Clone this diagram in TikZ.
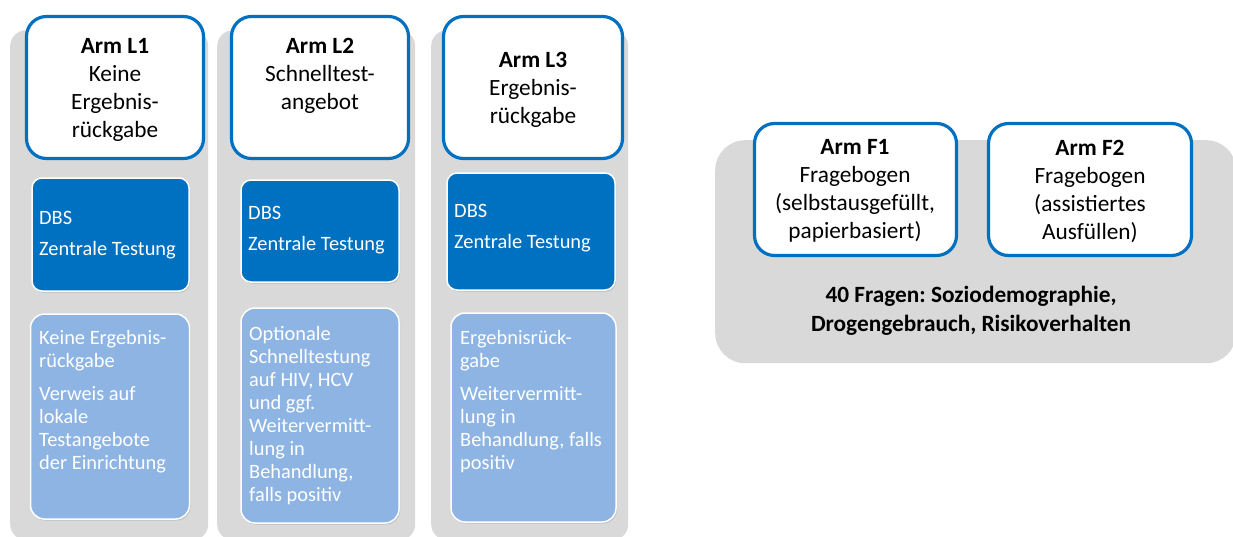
\documentclass[tikz,border=0pt]{standalone}
\usepackage{fontspec}
\setmainfont{Carlito}
\usetikzlibrary{shadows}
\definecolor{armblue}{HTML}{0070C0}
\definecolor{infoblue}{HTML}{8EB4E3}
\definecolor{panelgray}{HTML}{D9D9D9}
\frenchspacing
\begin{document}
\begin{tikzpicture}[x=1pt,y=-1pt,
  panel/.style={fill=panelgray, draw=none, rounded corners=16pt, inner sep=0pt, anchor=north west},
  header/.style={draw=armblue, line width=3.2pt, fill=white, rounded corners=20pt, inner sep=0pt},
  dbsbox/.style={fill=armblue, draw=white, line width=1.5pt, rounded corners=10pt, inner sep=0pt,
    drop shadow={opacity=0.3, shadow xshift=1pt, shadow yshift=-1.5pt}},
  infobox/.style={fill=infoblue, draw=white, line width=1.5pt, rounded corners=14pt, inner sep=0pt,
    drop shadow={opacity=0.3, shadow xshift=1pt, shadow yshift=-1.5pt}},
  hdtext/.style={font=\fontsize{23.3}{28}\selectfont, align=center, inner sep=0pt},
  dtext/.style={text=white, font=\fontsize{20.4}{23}\selectfont, align=left, inner sep=0pt, anchor=north west},
  btext/.style={font=\bfseries\fontsize{23.3}{29}\selectfont, align=center, inner sep=0pt}]
\useasboundingbox (0,0) rectangle (1233,536);
\begin{scope}
\clip (0,0) rectangle (1233,536);
\node[panel, minimum width=198pt, minimum height=510pt] (pL1) at (10,30) {};
\node[panel, minimum width=198pt, minimum height=510pt] (pL2) at (217,30) {};
\node[panel, minimum width=197pt, minimum height=510pt] (pL3) at (431,30) {};
\node[panel, rounded corners=30pt, minimum width=521pt, minimum height=223pt] (pF) at (715,140) {};
\end{scope}

% headers
\node[header, minimum width=177pt, minimum height=142pt] (hL1) at (115,87.5) {};
\node[header, minimum width=177pt, minimum height=142pt] (hL2) at (320,87.5) {};
\node[header, minimum width=179pt, minimum height=142pt] (hL3) at (533,87.5) {};
\node[hdtext] (tL1) at (115,90) {\textbf{Arm L1}\\Keine\\Ergebnis-\\rückgabe};
\node[hdtext] (tL2) at (320,76) {\textbf{Arm L2}\\Schnelltest-\\angebot};
\node[hdtext] (tL3) at (533,90) {\textbf{Arm L3}\\Ergebnis-\\rückgabe};

% DBS boxes
\node[dbsbox, minimum width=157pt, minimum height=113pt] (dL1) at (110.5,234.5) {};
\node[dbsbox, minimum width=158pt, minimum height=102pt] (dL2) at (320,231) {};
\node[dbsbox, minimum width=168pt, minimum height=117pt] (dL3) at (531,231.5) {};
\node[dtext] (dtL1) at (39,211.5) {DBS\\[8pt]Zentrale Testung};
\node[dtext] (dtL2) at (248,206.5) {DBS\\[8pt]Zentrale Testung};
\node[dtext] (dtL3) at (454,204.5) {DBS\\[8pt]Zentrale Testung};

% info boxes
\node[infobox, minimum width=159pt, minimum height=205pt] (iL1) at (110,416.5) {};
\node[infobox, minimum width=158pt, minimum height=215pt] (iL2) at (320,415.5) {};
\node[infobox, minimum width=165pt, minimum height=209pt] (iL3) at (533.5,417.5) {};
\node[dtext] (itL1) at (39,330) {Keine Ergebnis-\\rückgabe\\[10pt]Verweis auf\\lokale\\Testangebote\\der Einrichtung};
\node[dtext] (itL2) at (249,326) {Optionale\\Schnelltestung\\auf HIV, HCV\\und ggf.\\Weitervermitt-\\lung in\\Behandlung,\\falls positiv};
\node[dtext] (itL3) at (460,330) {Ergebnisrück-\\gabe\\[10pt]Weitervermitt-\\lung in\\Behandlung, falls\\positiv};

% questionnaire arms
\node[header, minimum width=202pt, minimum height=132pt] (hF1) at (855.5,189.5) {};
\node[header, minimum width=203pt, minimum height=132pt] (hF2) at (1090,189.5) {};
\node[hdtext] (tF1) at (855,191) {\textbf{Arm F1}\\Fragebogen\\(selbstausgefüllt,\\papierbasiert)};
\node[hdtext] (tF2) at (1090,191) {\textbf{Arm F2}\\Fragebogen\\(assistiertes\\Ausfüllen)};
\node[btext] (tQ) at (971,311) {40 Fragen: Soziodemographie,\\Drogengebrauch, Risikoverhalten};
\end{tikzpicture}
\end{document}
